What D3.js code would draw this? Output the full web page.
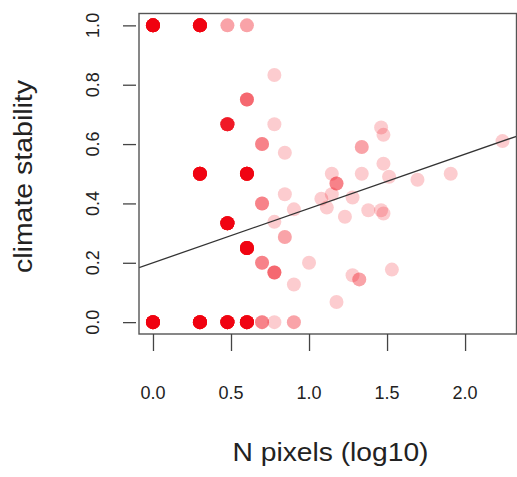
<!DOCTYPE html>
<html><head><meta charset="utf-8">
<script src="https://cdn.jsdelivr.net/npm/d3@7"></script>
<style>body{margin:0;background:#fff}svg{display:block}</style>
</head><body><svg id="c" width="517" height="477"></svg>
<script>
// data: x = N pixels (log10), y = climate stability, n = overlapping observations
const xs = [0,0.301,0.477,0.602,0.778,0.602,0.477,0.778,0.699,0.845,0.301,0.602,1.146,1.338,1.513,1.695,1.908,1.462,1.477,1.338,1.477,2.24,1.176,0.845,0.699,1.079,1.146,1.279,0.903,1.114,1.23,1.38,1.462,1.477,0.778,0.845,0.602,0.477,0.699,0.778,1.0,0.903,1.279,1.322,1.531,1.176,0,0.301,0.477,0.602,0.699,0.778,0.903];
const ys = [1,1,1,1,0.833,0.75,0.667,0.667,0.6,0.571,0.5,0.5,0.5,0.5,0.49,0.48,0.5,0.656,0.631,0.59,0.534,0.61,0.467,0.431,0.4,0.416,0.431,0.42,0.38,0.386,0.355,0.377,0.377,0.366,0.338,0.287,0.25,0.333,0.2,0.167,0.2,0.127,0.158,0.144,0.177,0.068,0,0,0,0,0,0,0];
const ns = [20,18,2,2,1,4,10,1,3,1,18,18,1,1,1,1,1,1,1,2,1,1,3,1,3,1,1,1,1,1,1,1,1,1,1,2,18,18,3,4,1,1,1,2,1,1,20,20,18,18,3,1,2];
const xTicks = [0,0.5,1,1.5,2];
const yTicks = [0,0.2,0.4,0.6,0.8,1];
const fitIntercept = 0.2, fitSlope = 0.183;
const xLabel = "N pixels (log10)", yLabel = "climate stability";

const svg = d3.select("#c");
const xMax = 2.24;
const x = d3.scaleLinear().domain([-0.04*xMax, 1.04*xMax]).range([139, 516.5]);
const y = d3.scaleLinear().domain([-0.04, 1.04]).range([334, 13.5]);
const [x0, x1] = x.domain(), [y0, y1] = y.domain();

svg.append("clipPath").attr("id","clip").append("rect")
  .attr("x", x(x0)).attr("y", y(y1)).attr("width", x(x1)-x(x0)).attr("height", y(y0)-y(y1));

const pts = [];
xs.forEach((v,i)=>{ for(let k=0;k<ns[i];k++) pts.push([v, ys[i]]); });
svg.append("g").attr("clip-path","url(#clip)").selectAll("circle").data(pts).join("circle")
  .attr("cx", d=>x(d[0])).attr("cy", d=>y(d[1])).attr("r", 7)
  .attr("fill", "rgb(238,0,16)").attr("fill-opacity", 0.2);

svg.append("line").attr("clip-path","url(#clip)")
  .attr("x1", x(x0)).attr("y1", y(fitIntercept + fitSlope*x0))
  .attr("x2", x(x1)).attr("y2", y(fitIntercept + fitSlope*x1))
  .attr("stroke", "#333").attr("stroke-width", 1.3);

svg.append("rect").attr("x", x(x0)).attr("y", y(y1)).attr("width", x(x1)-x(x0)).attr("height", y(y0)-y(y1))
  .attr("fill","none").attr("stroke","#555").attr("stroke-width",1.4);

const ax = svg.append("g").attr("transform","translate(0,334)")
  .call(d3.axisBottom(x).tickValues(xTicks).tickSize(17).tickSizeOuter(0).tickFormat(""));
ax.select(".domain").remove();
ax.selectAll("line").attr("stroke","#444").attr("stroke-width",1.3);
const ay = svg.append("g").attr("transform","translate(136,0)")
  .call(d3.axisLeft(y).tickValues(yTicks).tickSize(13).tickSizeOuter(0).tickFormat(""));
ay.select(".domain").remove();
ay.selectAll("line").attr("stroke","#444").attr("stroke-width",1.3);

const font = "Liberation Sans, Arial, Helvetica, sans-serif";
svg.append("g").selectAll("text").data(xTicks).join("text")
  .attr("x", d=>x(d)).attr("y", 399).attr("text-anchor","middle")
  .attr("font-family", font).attr("font-size", 18).attr("fill","#222")
  .text(d=>d3.format(".1f")(d));
svg.append("g").selectAll("text").data(yTicks).join("text")
  .attr("transform", d=>`translate(99,${y(d)}) rotate(-90)`).attr("text-anchor","middle")
  .attr("font-family", font).attr("font-size", 18).attr("fill","#222")
  .text(d=>d3.format(".1f")(d));

svg.append("text").attr("x", 330.5).attr("y", 461).attr("text-anchor","middle")
  .attr("font-family", font).attr("font-size", 25).attr("fill","#222")
  .attr("textLength", 196).attr("lengthAdjust","spacingAndGlyphs").text(xLabel);
svg.append("text").attr("transform","translate(32,176.5) rotate(-90)").attr("text-anchor","middle")
  .attr("font-family", font).attr("font-size", 25).attr("fill","#222")
  .attr("textLength", 193).attr("lengthAdjust","spacingAndGlyphs").text(yLabel);
</script></body></html>
